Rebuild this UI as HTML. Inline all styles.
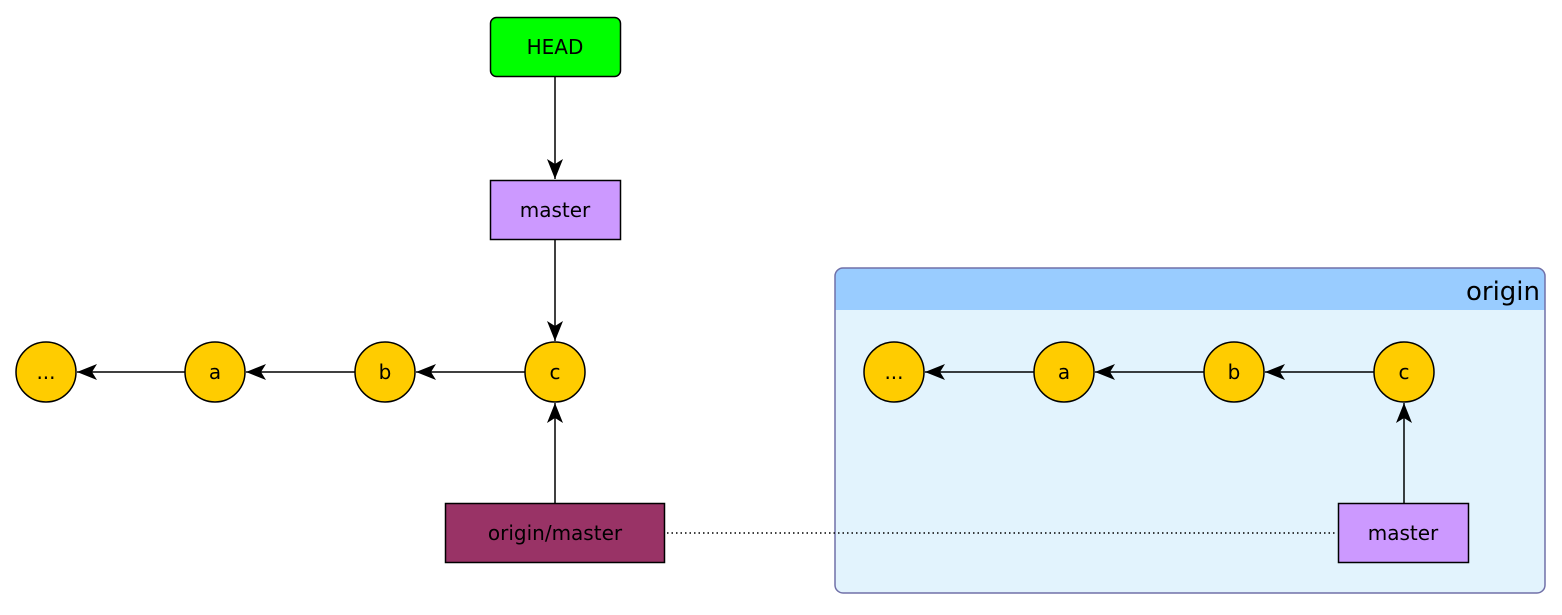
<!DOCTYPE html>
<html><head><meta charset="utf-8"><style>
html,body{margin:0;padding:0;background:#fff;}
text{font-family:"DejaVu Sans","Liberation Sans",sans-serif;}
</style></head><body>
<svg width="1562" height="610" viewBox="0 0 1562 610" xmlns="http://www.w3.org/2000/svg">
<defs>
<marker id="ah" viewBox="0 0 20 16" refX="20" refY="8" markerWidth="20" markerHeight="16" markerUnits="userSpaceOnUse" orient="auto">
<path d="M0,0 L20,8 L0,16 L5,8 Z" fill="#000"/>
</marker>
</defs>
<path d="M835,310 L835,276 Q835,268 843,268 L1537,268 Q1545,268 1545,276 L1545,310 Z" fill="#99ccff"/>
<path d="M835,310 L1545,310 L1545,585 Q1545,593 1537,593 L843,593 Q835,593 835,585 Z" fill="#e2f3fd"/>
<rect x="835" y="268" width="710" height="325" rx="8" fill="none" stroke="#7070a8" stroke-width="1.5"/>
<text x="1540" y="300" font-size="26" text-anchor="end" fill="#000">origin</text>

<line x1="555" y1="77" x2="555" y2="179" stroke="#000" stroke-width="1.5" marker-end="url(#ah)"/>
<line x1="555" y1="240" x2="555" y2="341" stroke="#000" stroke-width="1.5" marker-end="url(#ah)"/>
<line x1="555" y1="503" x2="555" y2="403" stroke="#000" stroke-width="1.5" marker-end="url(#ah)"/>
<line x1="525" y1="372" x2="416" y2="372" stroke="#000" stroke-width="1.5" marker-end="url(#ah)"/>
<line x1="355" y1="372" x2="246" y2="372" stroke="#000" stroke-width="1.5" marker-end="url(#ah)"/>
<line x1="185" y1="372" x2="77" y2="372" stroke="#000" stroke-width="1.5" marker-end="url(#ah)"/>
<line x1="1374" y1="372" x2="1265" y2="372" stroke="#000" stroke-width="1.5" marker-end="url(#ah)"/>
<line x1="1204" y1="372" x2="1095" y2="372" stroke="#000" stroke-width="1.5" marker-end="url(#ah)"/>
<line x1="1034" y1="372" x2="925" y2="372" stroke="#000" stroke-width="1.5" marker-end="url(#ah)"/>
<line x1="1404" y1="503" x2="1404" y2="403" stroke="#000" stroke-width="1.5" marker-end="url(#ah)"/>
<line x1="667" y1="533" x2="1337" y2="533" stroke="#000" stroke-width="1.5" stroke-dasharray="1.5,3"/>

<rect x="490.5" y="17.5" width="130" height="59" rx="6" fill="#00ff00" stroke="#000" stroke-width="1.5"/>
<text x="555" y="54" font-size="20" text-anchor="middle">HEAD</text>
<rect x="490.5" y="180.5" width="130" height="59" fill="#cc99ff" stroke="#000" stroke-width="1.5"/>
<text x="555" y="217" font-size="20" text-anchor="middle">master</text>
<rect x="445.5" y="503.5" width="219" height="59" fill="#993366" stroke="#000" stroke-width="1.5"/>
<text x="555" y="540" font-size="20" text-anchor="middle">origin/master</text>
<rect x="1338.5" y="503.5" width="130" height="59" fill="#cc99ff" stroke="#000" stroke-width="1.5"/>
<text x="1403" y="540" font-size="20" text-anchor="middle">master</text>

<g fill="#ffcc00" stroke="#000" stroke-width="1.5">
<circle cx="46" cy="372" r="30"/><circle cx="215" cy="372" r="30"/><circle cx="385" cy="372" r="30"/><circle cx="555" cy="372" r="30"/>
<circle cx="894" cy="372" r="30"/><circle cx="1064" cy="372" r="30"/><circle cx="1234" cy="372" r="30"/><circle cx="1404" cy="372" r="30"/>
</g>
<g font-size="20" text-anchor="middle">
<text x="46" y="379">...</text><text x="215" y="379">a</text><text x="385" y="379">b</text><text x="555" y="379">c</text>
<text x="894" y="379">...</text><text x="1064" y="379">a</text><text x="1234" y="379">b</text><text x="1404" y="379">c</text>
</g>
</svg>
</body></html>
